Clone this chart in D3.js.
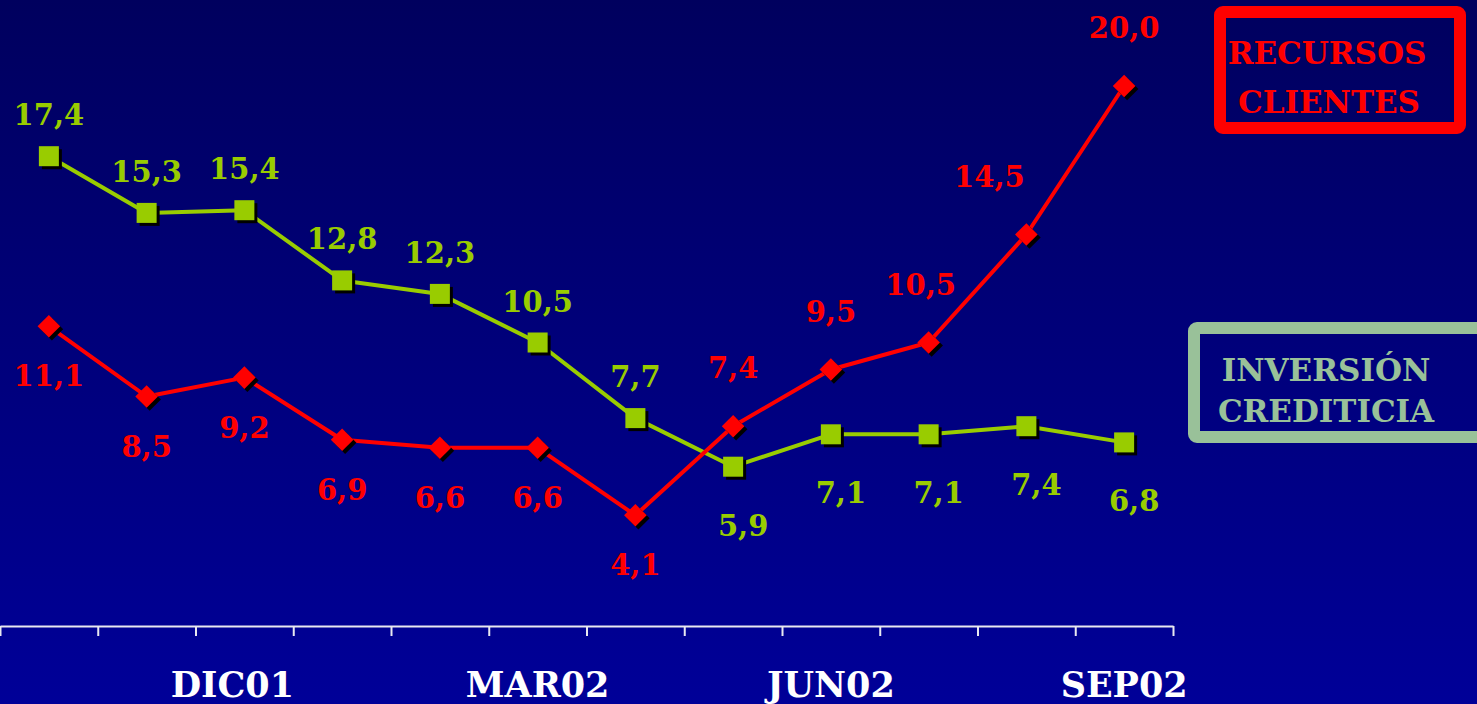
<!DOCTYPE html>
<html>
<head>
<meta charset="utf-8">
<script src="https://cdn.jsdelivr.net/npm/d3@7"></script>
<style>
    html, body { margin: 0; padding: 0; overflow: hidden; background: #000070; }
    svg { display: block; }
</style>
</head>
<body>
<svg id="chart" width="1477" height="704"></svg>
<script>
// months (Oct 2001 .. Sep 2002), only every third one is labelled
var months = ["OCT01", "NOV01", "DIC01", "ENE02", "FEB02", "MAR02",
              "ABR02", "MAY02", "JUN02", "JUL02", "AGO02", "SEP02"];
var shownMonths = ["DIC01", "MAR02", "JUN02", "SEP02"];

var inversion = [17.4, 15.3, 15.4, 12.8, 12.3, 10.5, 7.7, 5.9, 7.1, 7.1, 7.4, 6.8];
var recursos = [11.1, 8.5, 9.2, 6.9, 6.6, 6.6, 4.1, 7.4, 9.5, 10.5, 14.5, 20.0];

// where each value label sits relative to its point
var inversionSide = ["up", "up", "up", "up", "up", "up", "up", "down", "down", "down", "down", "down"];
var recursosSide = ["down", "down", "down", "down", "down", "down", "down", "up", "up", "up", "up", "up"];

window.onload = main;

function main() {
    var svg = d3.select("#chart");
    var width = 1477, height = 704;

    // background gradient
    var defs = svg.append("defs");
    var grad = defs.append("linearGradient")
        .attr("id", "bg")
        .attr("x1", 0).attr("y1", 0).attr("x2", 0).attr("y2", 1);
    grad.append("stop").attr("offset", "0%").attr("stop-color", "#00005e");
    grad.append("stop").attr("offset", "100%").attr("stop-color", "#000098");
    svg.append("rect")
        .attr("width", width).attr("height", height)
        .attr("fill", "url(#bg)");

    var font = "'DejaVu Serif', serif";

    var x = d3.scaleBand().domain(months).range([0, 1173]);
    var y = d3.scaleLinear().domain([0, 20]).range([626, 86]);
    var cx = function (m) { return x(m) + x.bandwidth() / 2; };

    // axis: ticks on band boundaries, no labels from the axis itself
    var tickScale = d3.scaleLinear().domain([0, months.length]).range([0, 1173]);
    var axis = svg.append("g")
        .attr("transform", "translate(0,626)")
        .call(d3.axisBottom(tickScale)
            .tickValues(d3.range(0, months.length + 1))
            .tickSize(10)
            .tickSizeOuter(0)
            .tickFormat(""));
    axis.select(".domain").attr("stroke", "#e8e8f0").attr("stroke-width", 2);
    axis.selectAll(".tick line").attr("stroke", "#e8e8f0").attr("stroke-width", 2);

    var monthNudge = { "DIC01": -12 };
    svg.selectAll("text.month")
        .data(shownMonths)
        .enter()
        .append("text")
        .attr("class", "month")
        .attr("x", function (d) { return cx(d) + (monthNudge[d] || 0); })
        .attr("y", 697)
        .attr("text-anchor", "middle")
        .attr("font-family", font)
        .attr("font-weight", "bold")
        .attr("font-size", 35)
        .attr("fill", "#ffffff")
        .text(function (d) { return d; });

    var line = d3.line()
        .x(function (d, i) { return cx(months[i]); })
        .y(function (d) { return y(d); });

    var series = [
        { name: "inv", values: inversion, side: inversionSide, color: "#99cc00", marker: "square",
          upDy: -31, downDy: 69, downDx: 10 },
        { name: "rec", values: recursos, side: recursosSide, color: "#ff0000", marker: "diamond",
          upDy: -48, downDy: 60, downDx: 0 }
    ];
    // a few labels that were pushed sideways in the original
    var nudge = { "rec-10": -37, "rec-9": -8 };

    series.forEach(function (s) {
        svg.append("path")
            .datum(s.values)
            .attr("d", line)
            .attr("fill", "none")
            .attr("stroke", s.color)
            .attr("stroke-width", 4)
            .attr("stroke-linejoin", "round");
    });

    series.forEach(function (s) {
        var g = svg.append("g");
        var pts = g.selectAll("g.pt")
            .data(s.values)
            .enter()
            .append("g")
            .attr("transform", function (d, i) {
                return "translate(" + cx(months[i]) + "," + y(d) + ")";
            });

        function shape(sel, color, off) {
            if (s.marker === "square") {
                sel.append("rect")
                    .attr("x", -10 + off).attr("y", -10 + off)
                    .attr("width", 20).attr("height", 20)
                    .attr("fill", color);
            } else {
                sel.append("rect")
                    .attr("x", -8).attr("y", -8)
                    .attr("width", 16).attr("height", 16)
                    .attr("transform", "translate(" + off + "," + off + ") rotate(45)")
                    .attr("fill", color);
            }
        }
        shape(pts, "#000000", 3);
        shape(pts, s.color, 0);
    });

    series.forEach(function (s) {
        svg.selectAll("text.lbl-" + s.name)
            .data(s.values)
            .enter()
            .append("text")
            .attr("class", "lbl-" + s.name)
            .attr("x", function (d, i) {
                var dx = s.side[i] === "down" ? s.downDx : 0;
                return cx(months[i]) + dx + (nudge[s.name + "-" + i] || 0);
            })
            .attr("y", function (d, i) {
                return y(d) + (s.side[i] === "up" ? s.upDy : s.downDy);
            })
            .attr("text-anchor", "middle")
            .attr("font-family", font)
            .attr("font-weight", "bold")
            .attr("font-size", 29)
            .attr("fill", s.color)
            .text(function (d) { return d3.format(".1f")(d).replace(".", ","); });
    });

    // legend boxes
    svg.append("rect")
        .attr("x", 1220).attr("y", 12)
        .attr("width", 240).attr("height", 116)
        .attr("rx", 3)
        .attr("fill", "none")
        .attr("stroke", "#ff0000")
        .attr("stroke-width", 12);
    svg.append("text")
        .attr("x", 1327).attr("y", 64)
        .attr("text-anchor", "middle")
        .attr("font-family", font).attr("font-weight", "bold").attr("font-size", 31)
        .attr("fill", "#ff0000")
        .text("RECURSOS");
    svg.append("text")
        .attr("x", 1329).attr("y", 113)
        .attr("text-anchor", "middle")
        .attr("font-family", font).attr("font-weight", "bold").attr("font-size", 31)
        .attr("fill", "#ff0000")
        .text("CLIENTES");

    svg.append("rect")
        .attr("x", 1194).attr("y", 328)
        .attr("width", 300).attr("height", 109)
        .attr("rx", 3)
        .attr("fill", "none")
        .attr("stroke", "#99c199")
        .attr("stroke-width", 12);
    svg.append("text")
        .attr("x", 1326).attr("y", 381)
        .attr("text-anchor", "middle")
        .attr("font-family", font).attr("font-weight", "bold").attr("font-size", 31)
        .attr("fill", "#99c199")
        .text("INVERSIÓN");
    svg.append("text")
        .attr("x", 1326).attr("y", 422)
        .attr("text-anchor", "middle")
        .attr("font-family", font).attr("font-weight", "bold").attr("font-size", 31)
        .attr("fill", "#99c199")
        .text("CREDITICIA");
}
</script>
</body>
</html>
